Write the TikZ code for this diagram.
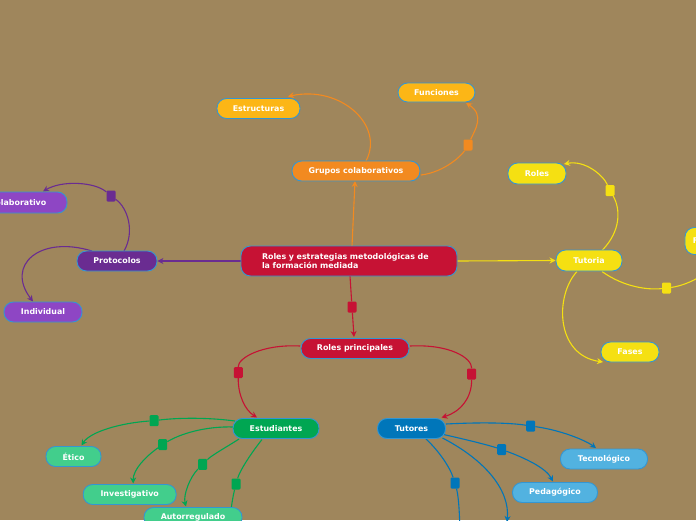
\documentclass[tikz,border=0pt]{standalone}
\usepackage{fontspec}
\setmainfont{DejaVu Sans}
\usetikzlibrary{arrows.meta,calc}
\definecolor{bgc}{RGB}{159,134,92}
\definecolor{bord}{RGB}{52,150,210}
\definecolor{crim}{RGB}{198,18,52}
\definecolor{ora}{RGB}{242,138,32}
\definecolor{gold}{RGB}{252,182,22}
\definecolor{purd}{RGB}{106,44,145}
\definecolor{purl}{RGB}{142,70,196}
\definecolor{yel}{RGB}{245,224,18}
\definecolor{grd}{RGB}{0,166,82}
\definecolor{grl}{RGB}{66,206,140}
\definecolor{blud}{RGB}{0,118,186}
\definecolor{blul}{RGB}{82,178,224}
\pgfdeclarelayer{back}
\pgfdeclarelayer{lines}
\pgfsetlayers{back,lines,main}
\tikzset{
  box/.style={rounded corners=9.5pt, draw=bord, line width=0.9pt, fill=#1, text=white,
    font=\fontsize{7.9}{9}\selectfont\bfseries, minimum height=20pt, inner xsep=6pt, inner ysep=0pt},
  sq/.style={fill=#1, rounded corners=1.2pt, minimum width=9pt, minimum height=11pt, inner sep=0pt},
  con/.style={draw=#1, line width=1.1pt, -{Stealth[length=6pt,width=6pt]}},
  lin/.style={draw=#1, line width=1.1pt},
}
\begin{document}
\begin{tikzpicture}[x=1pt,y=-1pt]
\useasboundingbox (0,0) rectangle (696,520);
\begin{pgfonlayer}{back}
\fill[bgc] (0,0) rectangle (696,520);
\end{pgfonlayer}

% nodes
\node[box=crim, minimum width=216pt, minimum height=30pt, inner xsep=21pt, text width=174pt, align=left] (main) at (349,261) {Roles y estrategias metodológicas de\\la formación mediada};
\node[box=ora, minimum width=128pt] (grupos) at (356,171) {Grupos colaborativos};
\node[box=gold, minimum width=83pt] (estr) at (258.5,108.5) {Estructuras};
\node[box=gold, minimum width=77pt, minimum height=19pt] (func) at (436.5,92.5) {Funciones};
\node[box=purd, minimum width=80pt] (prot) at (117,261) {Protocolos};
\node[box=purl, minimum width=98pt, minimum height=21pt] (colab) at (18,202.5) {Colaborativo};
\node[box=purl, minimum width=78pt] (indiv) at (43,312) {Individual};
\node[box=yel, minimum width=66pt, minimum height=21pt] (tut) at (589,260.5) {Tutoria};
\node[box=yel, minimum width=58pt, minimum height=21pt] (roles) at (537,173.5) {Roles};
\node[box=yel, minimum width=58pt] (fases) at (630,352) {Fases};
\node[box=yel, anchor=west, minimum width=70pt, minimum height=27pt, inner xsep=8pt, text width=54pt, align=left] (fx) at (684.5,241) {F};
\node[box=crim, minimum width=108pt] (rp) at (355,348.5) {Roles principales};
\node[box=grd, minimum width=86pt] (est) at (276,428.5) {Estudiantes};
\node[box=blud, minimum width=68pt] (tuto) at (411.5,428.5) {Tutores};
\node[box=grl, minimum width=55pt] (etico) at (73.5,456.5) {Ético};
\node[box=grl, minimum width=93pt] (inv) at (129.7,494.5) {Investigativo};
\node[box=grl, minimum width=98pt] (auto) at (193,517.5) {Autorregulado};
\node[box=blul, minimum width=87pt] (tec) at (604,459) {Tecnológico};
\node[box=blul, minimum width=85pt] (ped) at (555,492.5) {Pedagógico};

% squares
\node[sq=ora] (s1) at (468,145) {};
\node[sq=purd] (s2) at (111,196) {};
\node[sq=yel] (s3) at (610,190.5) {};
\node[sq=yel] (s4) at (666.5,288) {};
\node[sq=crim] (s5) at (352,307) {};
\node[sq=crim] (s6) at (238.3,372.5) {};
\node[sq=crim] (s7) at (471.5,374) {};
\node[sq=grd] (s8) at (154,420.7) {};
\node[sq=grd] (s9) at (162.7,444.5) {};
\node[sq=grd] (s10) at (202.7,464.3) {};
\node[sq=grd] (s11) at (236,484) {};
\node[sq=blud] (s12) at (530.7,426) {};
\node[sq=blud] (s13) at (501.7,449.5) {};
\node[sq=blud] (s14) at (455,483) {};
\coordinate (estd) at (229,545);
\coordinate (tutd1) at (460,545);
\coordinate (tutd2) at (507,522);

\begin{pgfonlayer}{lines}
% center
\draw[con=ora] ($(main.center)+(3,-15)$) -- ($(grupos.center)+(-1,10)$);
\draw[con=purd] (main.west) -- (prot.east);
\draw[con=yel] (main.east) -- (tut.west);
\draw[con=crim] ($(main.center)+(1,15)$) -- (s5) -- ($(rp.center)+(-1,-11.5)$);
% grupos
\draw[con=ora] ($(grupos.center)+(10,-10)$) .. controls (385,125) and (340,85) .. ($(estr.center)+(29.5,-12)$);
\draw[lin=ora] ($(grupos.center)+(65,4)$) .. controls (445,172) and (462,155) .. (s1);
\draw[con=ora] (s1) .. controls (475,130) and (485,115) .. ($(func.center)+(29.5,10.5)$);
% protocolos
\draw[lin=purd] ($(prot.center)+(7,-10)$) .. controls (135,232) and (128,208) .. (s2);
\draw[con=purd] (s2) .. controls (95,182) and (62,180) .. ($(colab.center)+(25,-11)$);
\draw[con=purd] ($(prot.center)+(-25,-10)$) .. controls (40,235) and (5,265) .. ($(indiv.center)+(-10,-10.5)$);
% tutoria
\draw[lin=yel] ($(tut.center)+(13,-10)$) .. controls (622,230) and (620,208) .. (s3);
\draw[con=yel] (s3) .. controls (603,175) and (585,160) .. ($(roles.center)+(27,-9.5)$);
\draw[lin=yel] ($(tut.center)+(13,11)$) .. controls (625,288) and (650,290) .. (s4);
\draw[con=yel] (s4) .. controls (690,285) and (715,270) .. (fx.south);
\draw[con=yel] ($(tut.center)+(-12,11)$) .. controls (555,295) and (555,355) .. ($(fases.center)+(-27,10)$);
% roles principales
\draw[lin=crim] ($(rp.center)+(-55,-2.5)$) .. controls (262,344) and (238,358) .. (s6);
\draw[con=crim] (s6) .. controls (238,395) and (245,410) .. ($(est.center)+(-19,-11)$);
\draw[lin=crim] ($(rp.center)+(55,-2.5)$) .. controls (450,344) and (472,358) .. (s7);
\draw[con=crim] (s7) .. controls (472,398) and (460,412) .. ($(tuto.center)+(30,-11)$);
% estudiantes
\draw[lin=grd] ($(est.center)+(-41,-7.5)$) .. controls (205,417) and (175,418) .. (s8);
\draw[con=grd] (s8) .. controls (120,423) and (90,432) .. ($(etico.center)+(8,-11)$);
\draw[lin=grd] ($(est.center)+(-42,-1.5)$) .. controls (205,426) and (180,434) .. (s9);
\draw[con=grd] (s9) .. controls (145,457) and (133,470) .. ($(inv.center)+(3.5,-11)$);
\draw[lin=grd] ($(est.center)+(-37,10.5)$) .. controls (225,448) and (212,455) .. (s10);
\draw[con=grd] (s10) .. controls (190,477) and (183,495) .. ($(auto.center)+(-7,-11)$);
\draw[lin=grd] ($(est.center)+(-14,11)$) .. controls (252,452) and (240,470) .. (s11);
\draw[lin=grd] (s11) .. controls (232,500) and (229,520) .. (estd);
% tutores
\draw[lin=blud] ($(tuto.center)+(34.5,-4.5)$) .. controls (485,422) and (512,423) .. (s12);
\draw[con=blud] (s12) .. controls (560,430) and (585,440) .. ($(tec.center)+(-8,-11)$);
\draw[lin=blud] ($(tuto.center)+(32,6)$) .. controls (468,440) and (488,445) .. (s13);
\draw[con=blud] (s13) .. controls (525,458) and (546,468) .. ($(ped.center)+(-2,-11)$);
\draw[lin=blud] ($(tuto.center)+(14.5,10.5)$) .. controls (440,452) and (450,468) .. (s14);
\draw[lin=blud] (s14) .. controls (459,498) and (460,520) .. (tutd1);
\draw[con=blud] ($(tuto.center)+(31,9.5)$) .. controls (485,460) and (510,490) .. (tutd2);
\end{pgfonlayer}
\end{tikzpicture}
\end{document}
